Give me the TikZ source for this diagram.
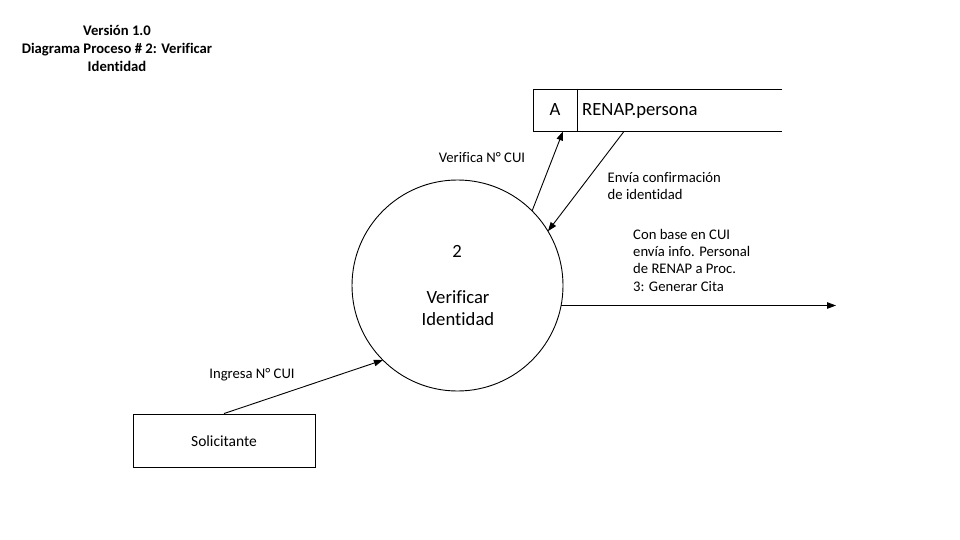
\documentclass[tikz,border=0pt]{standalone}
\usepackage{fontspec}
\setmainfont{Carlito}[Ligatures=NoCommon]
\usetikzlibrary{arrows.meta,calc}
\begin{document}
\begin{tikzpicture}[x=1pt,y=-1pt,
  small/.style={font=\fontsize{14.67}{17.3}\selectfont},
  big/.style={font=\fontsize{18.67}{22.5}\selectfont},
  flow/.style={line width=0.9pt,-{Triangle[length=9pt,width=6.5pt]}},
  lbl/.style={small,inner sep=0pt},
  thin/.style={line width=0.9pt}]
\useasboundingbox (0,0) rectangle (960,540);
% title
\node[lbl,font=\fontsize{14.67}{18}\selectfont\bfseries,align=center,anchor=north] (title) at (117,25)
  {Versión 1.0\\Diagrama Proceso \# 2: Verificar\\Identidad};
% process
\node[circle,draw,thin,minimum size=211pt,inner sep=0pt,outer sep=0pt] (proc) at (457.5,285.5) {};
\node[big,inner sep=0pt] (num) at (457,251) {2};
\node[big,align=center,inner sep=0pt] (ptext) at (458,308) {Verificar\\Identidad};
% data store
\node[minimum width=249pt,minimum height=42pt,inner sep=0pt,anchor=north west] (store) at (533,89) {};
\draw[thin] (store.north east) -- (store.north west) -- (store.south west) -- (store.south east);
\coordinate (div) at ($(store.north west)+(44,0)$);
\draw[thin] (div) -- (div |- store.south);
\node[big,inner sep=0pt,anchor=base] (sid) at (555,116) {A};
\node[big,inner sep=0pt,anchor=base west] (sname) at (582,116) {RENAP.persona};
% external entity
\node[draw,thin,minimum width=182pt,minimum height=53pt,inner sep=0pt] (sol) at (224,440.5) {};
\node[inner sep=0pt,font=\fontsize{15.5}{18}\selectfont] (soltext) at (224,441) {Solicitante};
% flows
\draw[flow] (sol.north) -- (proc.225);
\coordinate (vend) at ($(store.south west)+(30,0)$);
\draw[flow] (proc.45.6) -- (vend);
\coordinate (estart) at ($(store.south west)+(91,0)$);
\draw[flow] (estart) -- (proc.31);
\coordinate (outend) at (836,305.5);
\draw[flow] (proc.-10.7 |- outend) -- (outend);
% labels
\node[lbl] (l1) at (252,375) {Ingresa N° CUI};
\node[lbl] (l2) at (482,158) {Verifica N° CUI};
\node[lbl,align=left,anchor=north west] (l3) at (607.5,172) {Envía confirmación\\de identidad};
\node[lbl,align=left,anchor=north west] (l4) at (633,229) {Con base en CUI\\envía info. Personal\\de RENAP a Proc.\\3: Generar Cita};
\end{tikzpicture}
\end{document}
